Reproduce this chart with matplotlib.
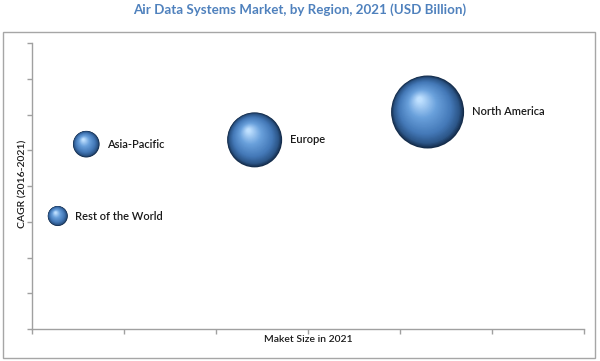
import matplotlib
matplotlib.use("Agg")
import matplotlib.pyplot as plt
from matplotlib.transforms import offset_copy
from matplotlib.patches import Rectangle
import numpy as np
from matplotlib.colors import LinearSegmentedColormap

# ---- data (axis units) ----
regions = ["Rest of the World", "Asia-Pacific", "Europe", "North America"]
market_size = [0.28, 0.59, 2.42, 4.30]      # x (Maket Size in 2021)
cagr = [3.16, 5.17, 5.29, 6.07]              # y (CAGR 2016-2021)
bubble_value = [100, 177, 756, 1332]         # bubble size values (area)

title = "Air Data Systems Market, by Region, 2021 (USD Billion)"
xlabel = "Maket Size in 2021"
ylabel = "CAGR (2016-2021)"

W, H, DPI = 600, 361, 100
fig = plt.figure(figsize=(W / DPI, H / DPI), dpi=DPI)
fig.patch.set_facecolor("white")

# outer frame
fig.patches.append(Rectangle((3 / W, 1 - 358 / H), 592 / W, 326 / H,
                             transform=fig.transFigure, fill=False,
                             edgecolor="#a6a6a6", lw=1.0))

ax = fig.add_axes([32 / W, 1 - 329 / H, 552 / W, 286 / H])
ax.set_xlim(0, 6)
ax.set_ylim(0, 8)
ax.set_xticks(np.arange(0, 7))
ax.set_yticks(np.arange(0, 9))
ax.set_xticklabels([])
ax.set_yticklabels([])
for s in ["top", "right"]:
    ax.spines[s].set_visible(False)
for s in ["left", "bottom"]:
    ax.spines[s].set_color("#a0a0a0")
    ax.spines[s].set_linewidth(1.0)
ax.tick_params(axis="both", direction="out", length=3.5, width=1.0, color="#a0a0a0")
ax.patch.set_alpha(0)

cmap = LinearSegmentedColormap.from_list(
    "sph", [(0.0, "#142c4a"), (0.1, "#2c5688"), (0.3, "#4479b8"),
            (0.65, "#6aa1dc"), (1.0, "#bfe0ff")])

scale = 1.0  # px radius^2 per bubble value
N = 40
for x, y, v, name in zip(market_size, cagr, bubble_value, regions):
    R = np.sqrt(v * scale)            # radius in px
    Rpt = R * 72 / DPI
    hx, hy = -0.22 * Rpt, 0.34 * Rpt   # highlight offset in points
    for k in range(N):
        t = k / (N - 1)
        r = Rpt * (1 - 0.93 * t)
        tr = offset_copy(ax.transData, fig=fig, x=hx * t, y=hy * t, units="points")
        ax.scatter([x], [y], s=(2 * r) ** 2, color=cmap(t), edgecolors="none",
                   transform=tr, zorder=3 + k * 0.001, clip_on=False)
    trt = offset_copy(ax.transData, fig=fig, x=Rpt + 5.5, y=0, units="points")
    ax.text(x, y, name, transform=trt, ha="left", va="center",
            fontsize=8, family="Lato", fontweight="semibold", color="#1a1a1a")

fig.text(300 / W, 1 - 10 / H, title, ha="center", va="center", fontsize=9.6,
         family="Lato", fontweight="bold", color="#4f81bd")
fig.text(308 / W, 1 - 339 / H, xlabel, ha="center", va="center", fontsize=7.5,
         family="Lato", fontweight="semibold", color="#1a1a1a")
fig.text(23 / W, 1 - 184 / H, ylabel, ha="center", va="center", fontsize=7.5,
         rotation=90, family="Lato", fontweight="semibold", color="#1a1a1a")

fig.savefig("out.png", dpi=DPI, facecolor="white")
